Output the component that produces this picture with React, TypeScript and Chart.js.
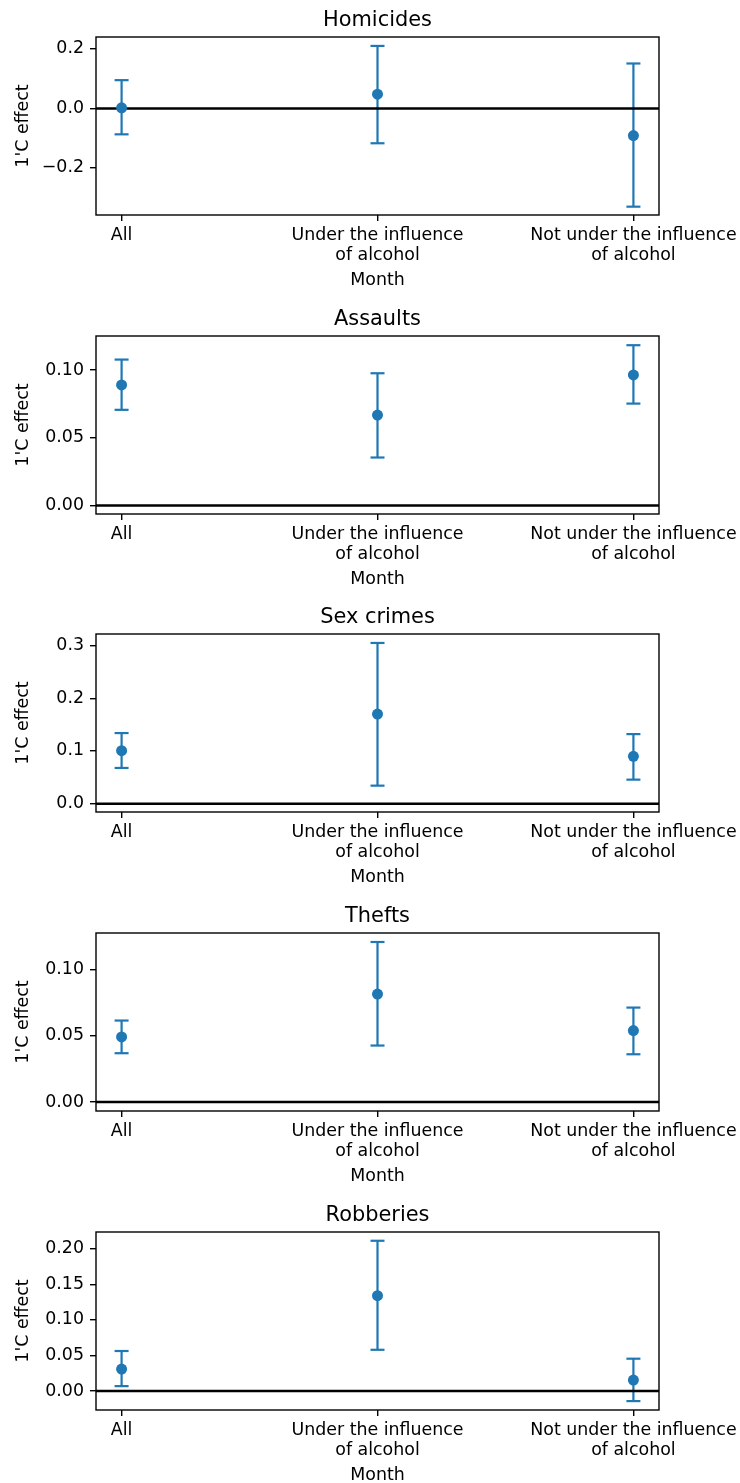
import React, { useEffect, useRef } from 'react';
import { Chart, registerables } from 'chart.js';

Chart.register(...registerables);

// ---------- data ----------
const categories: string[][] = [
  ['All'],
  ['Under the influence', 'of alcohol'],
  ['Not under the influence', 'of alcohol'],
];
const categoryPositions = [0, 1, 2];
const xAxisTitle = 'Month';
const yAxisTitle = "1'C effect";

const titles = ['Homicides', 'Assaults', 'Sex crimes', 'Thefts', 'Robberies'];

const homicidesMid = [0.002, 0.048, -0.091];
const homicidesLow = [-0.087, -0.117, -0.33];
const homicidesHigh = [0.095, 0.21, 0.151];

const assaultsMid = [0.089, 0.0667, 0.0964];
const assaultsLow = [0.0706, 0.0354, 0.0752];
const assaultsHigh = [0.1077, 0.0976, 0.1183];

const sexCrimesMid = [0.1006, 0.17, 0.0898];
const sexCrimesLow = [0.0678, 0.0342, 0.0456];
const sexCrimesHigh = [0.134, 0.305, 0.132];

const theftsMid = [0.0492, 0.0816, 0.054];
const theftsLow = [0.0369, 0.0427, 0.0361];
const theftsHigh = [0.0616, 0.121, 0.0714];

const robberiesMid = [0.031, 0.134, 0.0155];
const robberiesLow = [0.007, 0.058, -0.014];
const robberiesHigh = [0.0563, 0.211, 0.0455];

const homicidesTicks = [-0.2, 0, 0.2];
const homicidesTickLabels = ['\u22120.2', '0.0', '0.2'];
const assaultsTicks = [0, 0.05, 0.1];
const assaultsTickLabels = ['0.00', '0.05', '0.10'];
const sexCrimesTicks = [0, 0.1, 0.2, 0.3];
const sexCrimesTickLabels = ['0.0', '0.1', '0.2', '0.3'];
const theftsTicks = [0, 0.05, 0.1];
const theftsTickLabels = ['0.00', '0.05', '0.10'];
const robberiesTicks = [0, 0.05, 0.1, 0.15, 0.2];
const robberiesTickLabels = ['0.00', '0.05', '0.10', '0.15', '0.20'];

const yLimits: [number, number][] = [
  [-0.358, 0.24],
  [-0.0063, 0.1251],
  [-0.0158, 0.322],
  [-0.0068, 0.1278],
  [-0.0265, 0.2233],
];

// ---------- style ----------
const BLUE = '#1f77b4';
const FONT = 'DejaVu Sans';
const TICK_SIZE = 17.4;
const TITLE_SIZE = 20.9;
const CANVAS_W = 740;
const CANVAS_H = 288;
const PANEL_TOPS = [0, 299, 597, 896, 1195];

interface Panel {
  title: string;
  mid: number[];
  low: number[];
  high: number[];
  ticks: number[];
  tickLabels: string[];
  limits: [number, number];
}

const panels: Panel[] = [
  { title: titles[0], mid: homicidesMid, low: homicidesLow, high: homicidesHigh, ticks: homicidesTicks, tickLabels: homicidesTickLabels, limits: yLimits[0] },
  { title: titles[1], mid: assaultsMid, low: assaultsLow, high: assaultsHigh, ticks: assaultsTicks, tickLabels: assaultsTickLabels, limits: yLimits[1] },
  { title: titles[2], mid: sexCrimesMid, low: sexCrimesLow, high: sexCrimesHigh, ticks: sexCrimesTicks, tickLabels: sexCrimesTickLabels, limits: yLimits[2] },
  { title: titles[3], mid: theftsMid, low: theftsLow, high: theftsHigh, ticks: theftsTicks, tickLabels: theftsTickLabels, limits: yLimits[3] },
  { title: titles[4], mid: robberiesMid, low: robberiesLow, high: robberiesHigh, ticks: robberiesTicks, tickLabels: robberiesTickLabels, limits: yLimits[4] },
];

const decorPlugin = {
  id: 'decor',
  afterDatasetDraw(chart: any, args: any) {
    if (args.index !== 1) return;
    const { ctx, chartArea, scales } = chart;
    const y = scales.y.getPixelForValue(0);
    ctx.save();
    ctx.strokeStyle = '#000';
    ctx.lineWidth = 2.5;
    ctx.beginPath();
    ctx.moveTo(chartArea.left, y);
    ctx.lineTo(chartArea.right, y);
    ctx.stroke();
    ctx.restore();
  },
  afterDraw(chart: any, _args: any, opts: any) {
    const { ctx, chartArea, scales } = chart;
    const { left, right, top, bottom } = chartArea;
    ctx.save();
    // spines
    ctx.strokeStyle = '#000';
    ctx.lineWidth = 1.4;
    ctx.strokeRect(left, top, right - left, bottom - top);
    // title
    ctx.fillStyle = '#000';
    ctx.textAlign = 'center';
    ctx.textBaseline = 'alphabetic';
    ctx.font = `${TITLE_SIZE}px "${FONT}"`;
    ctx.fillText(opts.title, (left + right) / 2, top - 11);
    // x tick labels
    ctx.font = `${TICK_SIZE}px "${FONT}"`;
    categories.forEach((lines, i) => {
      const x = scales.x.getPixelForValue(categoryPositions[i]);
      lines.forEach((line, j) => {
        ctx.fillText(line, x, bottom + 24.5 + j * 20);
      });
    });
    // x axis title
    ctx.fillText(xAxisTitle, (left + right) / 2, bottom + 70);
    // y axis title
    ctx.translate(23.5, (top + bottom) / 2);
    ctx.rotate(-Math.PI / 2);
    ctx.textBaseline = 'middle';
    ctx.fillText(yAxisTitle, 0, 0);
    ctx.restore();
  },
};

function PanelChart({ panel, top }: { panel: Panel; top: number }) {
  const ref = useRef<HTMLCanvasElement | null>(null);
  useEffect(() => {
    if (!ref.current) return;
    const errorSets = categoryPositions.map((x, i) => ({
      data: [
        { x, y: panel.low[i] },
        { x, y: panel.high[i] },
      ],
      showLine: true,
      borderColor: BLUE,
      borderWidth: 2.2,
      pointStyle: 'line',
      pointRadius: 7,
      pointBorderColor: BLUE,
      pointBorderWidth: 2.2,
      pointBackgroundColor: BLUE,
    }));
    const pointSet = {
      data: categoryPositions.map((x, i) => ({ x, y: panel.mid[i] })),
      showLine: false,
      pointRadius: 5.5,
      pointBorderWidth: 0,
      pointBackgroundColor: BLUE,
      pointBorderColor: BLUE,
    };
    const chart = new Chart(ref.current, {
      type: 'scatter',
      data: { datasets: [pointSet, ...errorSets] as any },
      plugins: [decorPlugin as any],
      options: {
        animation: false,
        responsive: false,
        devicePixelRatio: 1,
        events: [],
        layout: { padding: { top: 37, left: 0, right: 81, bottom: 0 } },
        plugins: {
          legend: { display: false },
          tooltip: { enabled: false },
          decor: { title: panel.title },
        } as any,
        scales: {
          x: {
            type: 'linear',
            min: -0.1,
            max: 2.1,
            afterBuildTicks: (scale: any) => {
              scale.ticks = categoryPositions.map((v) => ({ value: v }));
            },
            afterFit: (scale: any) => {
              scale.height = CANVAS_H - 215;
            },
            ticks: { display: false },
            grid: {
              drawOnChartArea: false,
              drawTicks: true,
              tickLength: 6,
              color: '#000',
              lineWidth: 1.4,
            },
            border: { display: false },
          },
          y: {
            type: 'linear',
            min: panel.limits[0],
            max: panel.limits[1],
            afterBuildTicks: (scale: any) => {
              scale.ticks = panel.ticks.map((v) => ({ value: v }));
            },
            afterFit: (scale: any) => {
              scale.width = 96;
            },
            ticks: {
              padding: 6,
              color: '#000',
              font: { family: FONT, size: TICK_SIZE },
              callback: (value: any) => {
                const idx = panel.ticks.indexOf(Number(value));
                return idx >= 0 ? panel.tickLabels[idx] : '';
              },
            },
            grid: {
              drawOnChartArea: false,
              drawTicks: true,
              tickLength: 6,
              color: '#000',
              lineWidth: 1.4,
            },
            border: { display: false },
          },
        },
      } as any,
    });
    return () => chart.destroy();
  }, [panel]);
  return (
    <canvas
      ref={ref}
      width={CANVAS_W}
      height={CANVAS_H}
      style={{ position: 'absolute', left: 0, top, width: CANVAS_W, height: CANVAS_H, display: 'block' }}
    />
  );
}

export default function App() {
  return (
    <div
      style={{
        position: 'absolute',
        left: 0,
        top: 0,
        width: CANVAS_W,
        height: 1483,
        overflow: 'hidden',
        background: '#fff',
      }}
    >
      {panels.map((p, i) => (
        <PanelChart key={p.title} panel={p} top={PANEL_TOPS[i]} />
      ))}
    </div>
  );
}
